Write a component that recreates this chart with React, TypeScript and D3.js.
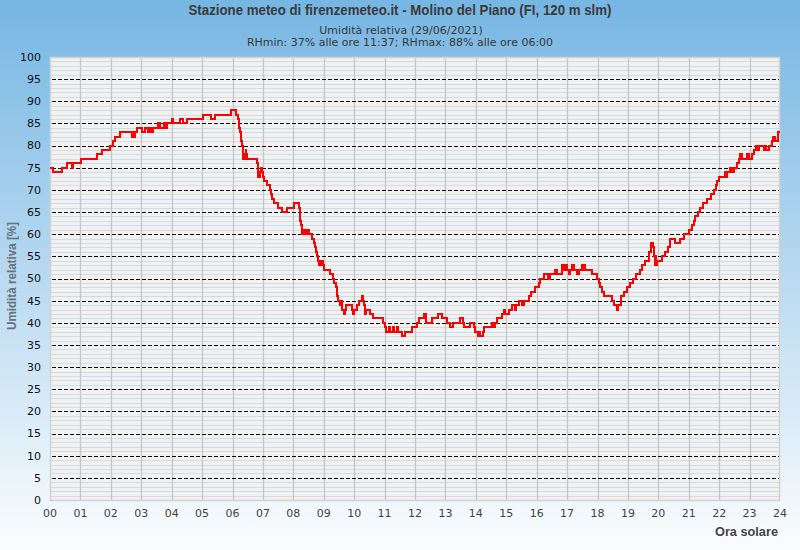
import * as d3 from "d3";

// orari (ora solare) e umidità relativa [%]
const times = [
  "00:00", "00:06", "00:23", "00:33", "00:43", "00:46", "01:02", "01:32", "01:43", "01:58",
  "02:04", "02:08", "02:18", "02:41", "02:43", "02:45", "02:47", "02:51", "03:01", "03:08",
  "03:14", "03:17", "03:19", "03:24", "03:34", "03:37", "03:44", "03:47", "03:50", "04:00",
  "04:02", "04:17", "04:23", "04:31", "05:02", "05:17", "05:26", "05:57", "06:06", "06:10",
  "06:12", "06:13", "06:15", "06:16", "06:17", "06:18", "06:20", "06:21", "06:24", "06:26",
  "06:27", "06:29", "06:48", "06:50", "06:51", "06:55", "06:56", "06:58", "07:00", "07:02",
  "07:09", "07:13", "07:15", "07:18", "07:21", "07:29", "07:37", "07:47", "08:02", "08:12",
  "08:13", "08:14", "08:16", "08:17", "08:18", "08:21", "08:23", "08:26", "08:30", "08:35",
  "08:37", "08:40", "08:42", "08:44", "08:46", "08:48", "08:50", "08:52", "08:54", "08:56",
  "08:58", "09:00", "09:12", "09:18", "09:21", "09:24", "09:26", "09:28", "09:33", "09:35",
  "09:36", "09:40", "09:42", "09:44", "09:55", "09:57", "09:59", "10:06", "10:09", "10:15",
  "10:18", "10:20", "10:22", "10:24", "10:31", "10:37", "10:56", "11:00", "11:03", "11:08",
  "11:10", "11:16", "11:18", "11:24", "11:26", "11:34", "11:40", "11:55", "12:03", "12:08",
  "12:18", "12:22", "12:33", "12:46", "12:54", "13:03", "13:09", "13:15", "13:28", "13:34",
  "13:37", "13:49", "13:56", "13:59", "14:04", "14:08", "14:09", "14:14", "14:17", "14:32",
  "14:35", "14:38", "14:41", "14:52", "14:55", "14:58", "15:05", "15:11", "15:17", "15:20",
  "15:25", "15:32", "15:35", "15:44", "15:48", "15:57", "16:04", "16:07", "16:14", "16:23",
  "16:27", "16:37", "16:40", "16:50", "16:53", "16:56", "17:00", "17:03", "17:06", "17:10",
  "17:13", "17:19", "17:23", "17:29", "17:32", "17:34", "17:36", "17:49", "17:59", "18:02",
  "18:05", "18:09", "18:12", "18:29", "18:33", "18:38", "18:41", "18:46", "18:52", "18:58",
  "19:05", "19:11", "19:16", "19:24", "19:28", "19:34", "19:41", "19:46", "19:49", "19:52",
  "19:53", "19:54", "19:56", "19:58", "20:07", "20:14", "20:20", "20:23", "20:33", "20:43",
  "20:50", "21:00", "21:06", "21:11", "21:13", "21:19", "21:23", "21:29", "21:36", "21:44",
  "21:49", "21:53", "21:56", "21:59", "22:11", "22:13", "22:15", "22:22", "22:25", "22:29",
  "22:35", "22:40", "22:42", "22:45", "22:54", "22:58", "23:04", "23:08", "23:12", "23:15",
  "23:18", "23:28", "23:30", "23:32", "23:38", "23:44", "23:47", "23:51", "23:56", "24:00",
];

const rh = [
  75, 74, 75, 76, 75, 76, 77, 78, 79, 80,
  81, 82, 83, 82, 83, 82, 83, 84, 83, 84,
  83, 84, 83, 84, 85, 84, 85, 84, 85, 86,
  85, 86, 85, 86, 87, 86, 87, 88, 87, 86,
  85, 84, 83, 82, 81, 80, 78, 77, 78, 79,
  78, 77, 76, 74, 73, 74, 75, 74, 73, 72,
  71, 70, 69, 68, 67, 66, 65, 66, 67, 66,
  65, 63, 62, 61, 60, 61, 60, 61, 60, 60,
  59, 58, 57, 56, 55, 54, 53, 54, 53, 54,
  53, 52, 51, 50, 49, 48, 46, 45, 44, 45,
  43, 42, 43, 44, 43, 42, 43, 44, 45, 46,
  45, 44, 42, 43, 42, 41, 40, 39, 38, 39,
  38, 39, 38, 39, 38, 37, 38, 39, 40, 41,
  42, 40, 41, 42, 41, 40, 39, 40, 41, 40,
  39, 40, 39, 38, 37, 38, 37, 38, 39, 40,
  39, 40, 41, 42, 43, 42, 43, 44, 43, 44,
  45, 44, 45, 46, 47, 48, 49, 50, 51, 50,
  51, 52, 51, 53, 52, 53, 52, 51, 52, 53,
  52, 51, 52, 53, 52, 53, 52, 51, 50, 49,
  48, 47, 46, 45, 44, 43, 44, 46, 47, 48,
  49, 50, 51, 52, 53, 54, 56, 58, 57, 55,
  53, 55, 53, 54, 55, 56, 57, 59, 58, 59,
  60, 61, 62, 63, 64, 65, 66, 67, 68, 69,
  70, 71, 72, 73, 74, 73, 74, 75, 74, 75,
  76, 77, 78, 77, 78, 77, 78, 79, 80, 79,
  80, 79, 80, 79, 80, 81, 82, 81, 83, 83,
];

const hourTicks = d3.range(0, 25);
const rhTicks = d3.range(0, 101, 5);

const W = 800;
const H = 550;
const left = 50;
const right = 780;
const top = 57;
const bottom = 500;

const toHours = (s: string) => {
  const [h, m] = s.split(":").map(Number);
  return h + m / 60;
};

export default function App() {
  const x = d3.scaleLinear().domain([0, 24]).range([left, right]);
  const y = d3.scaleLinear().domain([0, 100]).range([bottom, top]);

  const pts: [number, number][] = times.map((t, i) => [toHours(t), rh[i]]);
  const line = d3
    .line<[number, number]>()
    .x((d) => x(d[0]))
    .y((d) => y(d[1]))
    .curve(d3.curveStepAfter);

  const minor = d3.range(1, 100).filter((v) => v % 5 !== 0);
  const px = (v: number) => Math.round(v) + 0.5;

  return (
    <svg
      width={W}
      height={H}
      style={{ position: "absolute", left: 0, top: 0 }}
      fontFamily="DejaVu Sans, sans-serif"
    >
      <defs>
        <linearGradient id="bg" x1="0" y1="0" x2="0" y2="1">
          <stop offset="0%" stopColor="#76b6e3" />
          <stop offset="100%" stopColor="#fbfdfe" />
        </linearGradient>
      </defs>
      <rect width={W} height={H} fill="url(#bg)" />

      {/* titoli */}
      <text
        x={400}
        y={15}
        textAnchor="middle"
        fontFamily="Liberation Sans Narrow, Liberation Sans, Arial, sans-serif"
        fontWeight="bold"
        fontSize={14}
        fill="#3a3a3a"
        textLength={423}
        lengthAdjust="spacingAndGlyphs"
      >
        Stazione meteo di firenzemeteo.it - Molino del Piano (FI, 120 m slm)
      </text>
      <text x={401} y={34} textAnchor="middle" fontSize={11} fill="#383838">
        Umidità relativa (29/06/2021)
      </text>
      <text x={400} y={46} textAnchor="middle" fontSize={11} fill="#383838">
        RHmin: 37% alle ore 11:37; RHmax: 88% alle ore 06:00
      </text>

      {/* area grafico */}
      <rect x={left} y={top} width={right - left} height={bottom - top} fill="#f1f1f1" />
      {minor.map((v) => (
        <line
          key={"m" + v}
          x1={left}
          x2={right}
          y1={px(y(v))}
          y2={px(y(v))}
          stroke={v % 2 === 0 ? "#c4dfed" : "#dadada"}
          strokeWidth={1}
        />
      ))}
      {hourTicks.slice(1, -1).map((h) => (
        <line
          key={"v" + h}
          x1={px(x(h))}
          x2={px(x(h))}
          y1={top}
          y2={bottom}
          stroke="#c6c6c6"
          strokeWidth={1.3}
        />
      ))}
      {rhTicks.slice(1, -1).map((v) => (
        <line
          key={"d" + v}
          x1={left + 2}
          x2={right}
          y1={px(y(v))}
          y2={px(y(v))}
          stroke="#000"
          strokeWidth={1}
          strokeDasharray="4,2"
        />
      ))}
      <rect
        x={left + 0.5}
        y={top + 0.5}
        width={right - left - 1}
        height={bottom - top}
        fill="none"
        stroke="#d2d2d2"
        strokeWidth={1.5}
      />

      <path
        d={line(pts) || ""}
        fill="none"
        stroke="#ff0000"
        strokeWidth={2}
        shapeRendering="crispEdges"
      />

      {/* assi */}
      {rhTicks.map((v) => (
        <text key={"yl" + v} x={41} y={y(v)} dy="0.35em" textAnchor="end" fontSize={11} fill="#111">
          {v}
        </text>
      ))}
      {hourTicks.map((h) => (
        <text key={"xl" + h} x={x(h)} y={517} textAnchor="middle" fontSize={11} fill="#444">
          {String(h).padStart(2, "0")}
        </text>
      ))}
      <text
        transform="translate(16,276) rotate(-90)"
        textAnchor="middle"
        fontFamily="Liberation Sans Narrow, Liberation Sans, Arial, sans-serif"
        fontWeight="bold"
        fontSize={13}
        fill="#66717b"
        textLength={108}
        lengthAdjust="spacingAndGlyphs"
      >
        Umidità relativa [%]
      </text>
      <text
        x={778}
        y={536}
        textAnchor="end"
        fontFamily="Liberation Sans Narrow, Liberation Sans, Arial, sans-serif"
        fontWeight="bold"
        fontSize={13}
        fill="#444"
        textLength={63}
        lengthAdjust="spacingAndGlyphs"
      >
        Ora solare
      </text>
    </svg>
  );
}
